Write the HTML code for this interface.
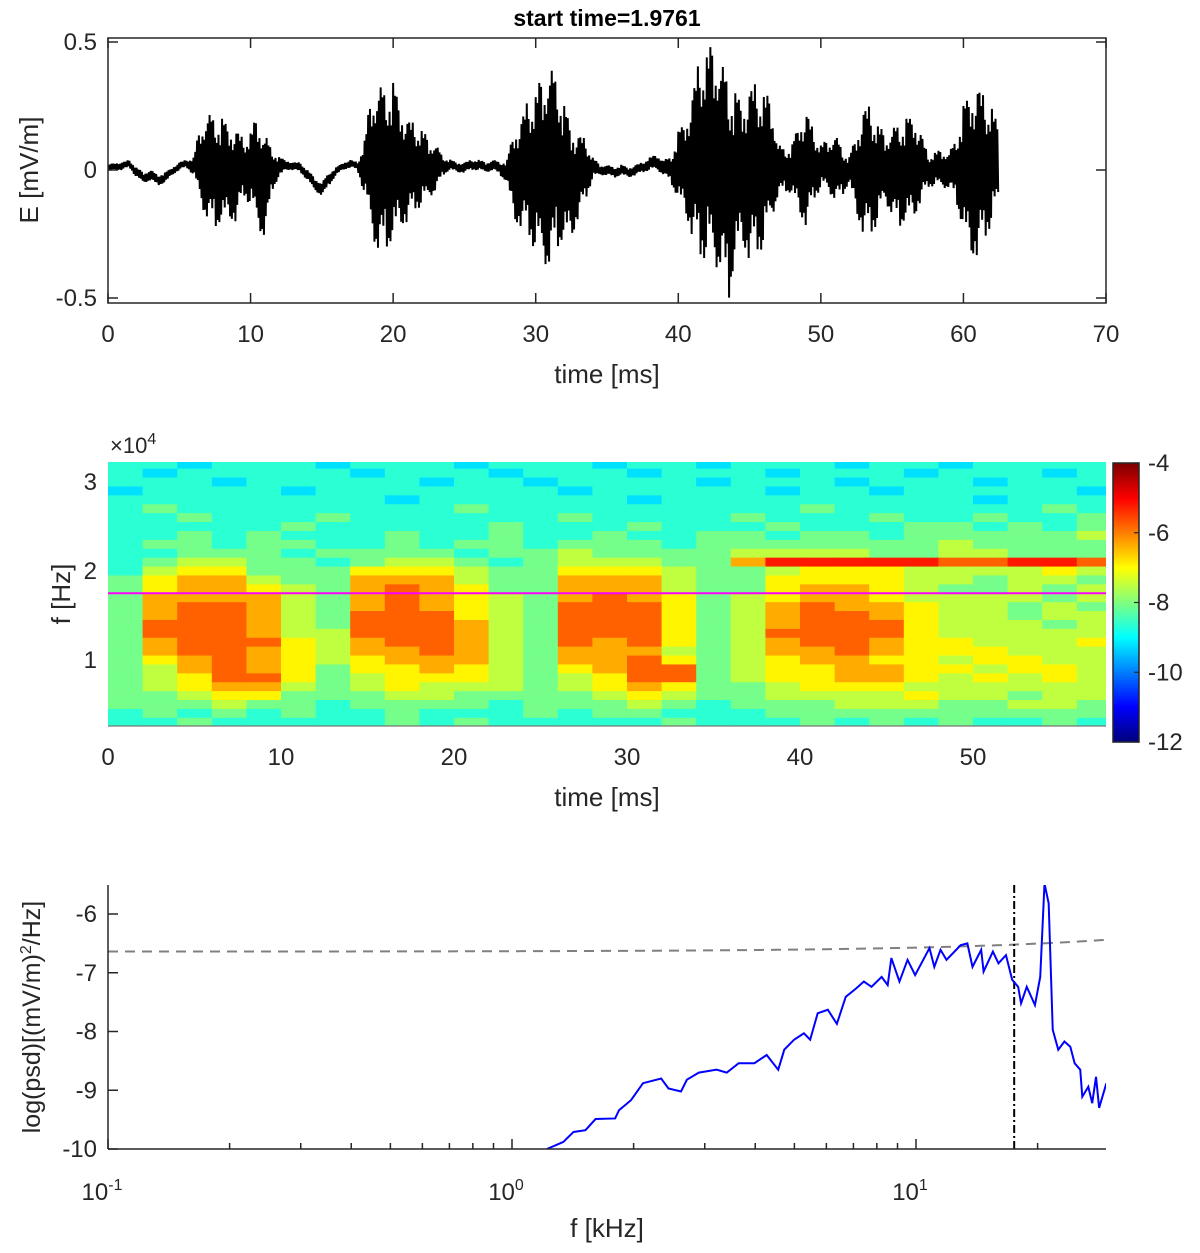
<!DOCTYPE html>
<html><head><meta charset="utf-8"><style>
html,body{margin:0;padding:0;background:#fff;}
svg{display:block;font-family:"Liberation Sans",Arial,sans-serif;}
</style></head><body>
<svg id="fig" width="1200" height="1253" viewBox="0 0 1200 1253" xmlns="http://www.w3.org/2000/svg">
<defs>
<clipPath id="clipTs"><rect x="108" y="38" width="998" height="265"/></clipPath>
<clipPath id="clipSp"><rect x="108" y="462" width="998" height="264"/></clipPath>
<clipPath id="clipPsd"><rect x="108" y="885" width="998" height="264"/></clipPath>
</defs>
<text x="607" y="26" text-anchor="middle" font-size="23" font-weight="bold">start time=1.9761</text>
<g id="p1"></g>
<g id="p2"></g>
<g id="p3"></g>
</svg>
<script>
// ---------- Panel 1 data: E-field envelope per 0.5 ms bin ----------
const tsStep = 0.5;
const eMax = [0.02,0.03,0.03,0.04,0.01,-0.01,0.0,-0.02,-0.01,0.01,0.03,0.04,0.05,0.18,0.22,0.2,0.2,0.18,0.16,0.12,0.15,0.22,0.14,0.08,0.05,0.04,0.03,0.03,0.0,-0.03,-0.05,-0.01,0.01,0.03,0.04,0.03,0.12,0.31,0.33,0.30,0.34,0.26,0.2,0.18,0.16,0.12,0.1,0.05,0.04,0.03,0.03,0.04,0.04,0.03,0.04,0.03,0.04,0.17,0.2,0.28,0.3,0.38,0.4,0.35,0.25,0.18,0.14,0.12,0.05,0.02,0.02,0.01,0.02,0.01,0.02,0.03,0.05,0.06,0.04,0.05,0.15,0.2,0.3,0.44,0.46,0.5,0.42,0.35,0.3,0.28,0.32,0.34,0.3,0.28,0.1,0.08,0.1,0.2,0.23,0.15,0.1,0.12,0.14,0.08,0.05,0.15,0.24,0.25,0.18,0.14,0.16,0.18,0.2,0.22,0.15,0.06,0.07,0.08,0.07,0.12,0.25,0.32,0.33,0.28,0.25,0.15];
const eMin = [-0.01,0.0,0.0,0.01,-0.03,-0.05,-0.04,-0.06,-0.05,-0.02,0.0,0.01,-0.02,-0.13,-0.2,-0.22,-0.21,-0.2,-0.2,-0.1,-0.14,-0.22,-0.27,-0.08,-0.03,0.0,0.0,-0.01,-0.04,-0.08,-0.1,-0.06,-0.02,0.0,0.01,0.0,-0.1,-0.25,-0.33,-0.3,-0.29,-0.23,-0.2,-0.16,-0.14,-0.11,-0.08,-0.02,0.0,-0.01,-0.01,0.0,0.0,-0.01,0.0,-0.02,-0.05,-0.21,-0.22,-0.26,-0.32,-0.36,-0.38,-0.3,-0.28,-0.28,-0.18,-0.12,-0.03,-0.02,-0.02,-0.03,-0.02,-0.03,-0.02,-0.01,0.0,0.0,-0.02,-0.05,-0.12,-0.18,-0.26,-0.35,-0.34,-0.38,-0.38,-0.52,-0.35,-0.3,-0.35,-0.33,-0.3,-0.2,-0.1,-0.08,-0.1,-0.18,-0.22,-0.12,-0.07,-0.08,-0.12,-0.1,-0.05,-0.18,-0.25,-0.26,-0.2,-0.12,-0.18,-0.22,-0.2,-0.2,-0.12,-0.07,-0.06,-0.07,-0.07,-0.12,-0.25,-0.35,-0.33,-0.28,-0.2,-0.12];
const p1XTicks = [0,10,20,30,40,50,60,70];
const p1YTicks = [-0.5,0,0.5];
const p1YTickLabels = ["-0.5","0","0.5"];

// ---------- Panel 2 data: spectrogram log power (digit d -> -10.4 + 0.58 d) ----------
const spT0 = 0, spDt = 2;           // ms per column
const spFTop = 32, spDf = 1;        // kHz row centres from 32 down to 3
const spRows = [
"33233323332333233233323323333",
"32333332333233323332333233323",
"33323333323323333233323332333",
"23333233333332333332332333332",
"33333333233333323333333332333",
"34333333334333333333433333343",
"33433343333334333343334334334",
"33333433333433343334333443434",
"33434333433433433443443444445",
"34434433434434443444444454444",
"33444344443445444455554455444",
"34554434554345554479999988998",
"35664446665446665445666555565",
"46775447775447775446666554554",
"46776547876447775446776544545",
"47777547876547876456776555545",
"47887547876548886457877655454",
"47887548886548886457887655455",
"48887548887548886457888655545",
"48887558887548886458888655555",
"47888657887548786457887665556",
"47887657787547775457787666555",
"46787656777547786456776656655",
"45787646676546788456677665665",
"45688645666545688456677656565",
"45677545655545676445666555555",
"44566444554444565445555655455",
"44454434444344454344455544554",
"34343433433343443334444444444",
"33433333434333334333434343343"];
const cbTicks = [-4,-6,-8,-10,-12];
const spXTicks = [0,10,20,30,40,50];
const spYTicks = [1,2,3];
const magentaF = 17.5; // kHz

// ---------- Panel 3 data: PSD ----------
const psdF = [1.22,1.34,1.42,1.52,1.61,1.80,1.84,1.97,2.11,2.34,2.44,2.62,2.71,2.90,3.21,3.40,3.64,3.98,4.27,4.56,4.72,4.99,5.28,5.47,5.71,6.05,6.37,6.70,7.10,7.43,7.76,8.22,8.51,8.69,9.10,9.53,9.95,10.8,11.1,11.5,11.9,12.9,13.4,13.8,14.5,14.7,15.5,16.0,16.7,17.3,17.9,18.2,18.8,19.7,20.3,20.8,21.3,21.8,22.5,23.3,24.1,24.7,25.5,25.8,26.7,27.3,27.9,28.4,29.6];
const psdV = [-10.0,-9.88,-9.71,-9.68,-9.49,-9.48,-9.34,-9.17,-8.88,-8.80,-8.97,-9.02,-8.82,-8.70,-8.65,-8.70,-8.54,-8.54,-8.40,-8.65,-8.31,-8.14,-8.03,-8.14,-7.69,-7.63,-7.87,-7.41,-7.27,-7.15,-7.24,-7.07,-7.21,-6.75,-7.15,-6.78,-7.04,-6.58,-6.90,-6.61,-6.78,-6.53,-6.50,-6.90,-6.61,-6.98,-6.64,-6.84,-6.70,-7.12,-7.24,-7.52,-7.24,-7.55,-7.07,-5.48,-5.82,-7.97,-8.31,-8.17,-8.26,-8.54,-8.65,-9.11,-8.94,-9.22,-8.77,-9.30,-8.88];
const thrIntercept = -6.64, thrSlope = 0.0068; // threshold line = a + b*f(kHz)
const cutoffF = 17.5; // kHz
const psdYTicks = [-10,-9,-8,-7,-6];

const NS = "http://www.w3.org/2000/svg";
function mk(parent, tag, attrs, text){
  const e = document.createElementNS(NS, tag);
  for (const k in attrs) e.setAttribute(k, attrs[k]);
  if (text !== undefined) e.textContent = text;
  parent.appendChild(e);
  return e;
}
function jet(v){
  const c = x => Math.max(0, Math.min(1, x));
  const r = c(1.5 - Math.abs(4*v - 3)), g = c(1.5 - Math.abs(4*v - 2)), b = c(1.5 - Math.abs(4*v - 1));
  return `rgb(${Math.round(r*255)},${Math.round(g*255)},${Math.round(b*255)})`;
}

// ================= Panel 1 =================
(function(){
  const g = document.getElementById('p1');
  const X0 = 108, X1 = 1106, Y0 = 38, Y1 = 303;
  const xS = t => X0 + (t - 0) / 70 * (X1 - X0);
  const yS = v => 170 - v * 256;
  const pattern = [1, 0.55, 0.9, 0.7, 0.95, 0.5, 0.82, 0.65];
  let pts = [];
  const N = 8;
  for (let i = 0; i < eMax.length - 1; i++) {
    for (let k = 0; k < N; k++) {
      const f = k / N;
      const hi = eMax[i] + (eMax[i+1] - eMax[i]) * f;
      const lo = eMin[i] + (eMin[i+1] - eMin[i]) * f;
      const mid = (hi + lo) / 2, amp = (hi - lo) / 2;
      const s = (k % 2 === 0 ? 1 : -1) * pattern[(i + k) % pattern.length];
      pts.push(xS((i + f) * tsStep).toFixed(2) + ',' + yS(mid + amp * s).toFixed(2));
    }
  }
  const wave = mk(g, 'polyline', {points: pts.join(' '), fill: 'none', stroke: '#000', 'stroke-width': 2, 'clip-path': 'url(#clipTs)'});
  
  
  const frame = mk(g, 'rect', {x: X0, y: Y0, width: X1 - X0, height: Y1 - Y0, fill: 'none', stroke: '#262626', 'stroke-width': 1.5});
  
  
  p1XTicks.forEach(t => {
    const x = xS(t);
    mk(g, 'line', {x1: x, y1: Y1, x2: x, y2: Y1 - 10, stroke: '#262626', 'stroke-width': 1.5});
    mk(g, 'line', {x1: x, y1: Y0, x2: x, y2: Y0 + 10, stroke: '#262626', 'stroke-width': 1.5});
    const lb = mk(g, 'text', {x: x, y: 342, 'text-anchor': 'middle', 'font-size': 24, fill: '#262626'}, String(t));
    
    
  });
  p1YTicks.forEach((v, i) => {
    const y = yS(v);
    mk(g, 'line', {x1: X0, y1: y, x2: X0 + 10, y2: y, stroke: '#262626', 'stroke-width': 1.5});
    mk(g, 'line', {x1: X1, y1: y, x2: X1 - 10, y2: y, stroke: '#262626', 'stroke-width': 1.5});
    const lb = mk(g, 'text', {x: 97, y: y + 8, 'text-anchor': 'end', 'font-size': 24, fill: '#262626'}, p1YTickLabels[i]);
    
    
  });
  const xl = mk(g, 'text', {x: 607, y: 383, 'text-anchor': 'middle', 'font-size': 26, fill: '#262626'}, 'time [ms]');
  
  
  const yl = mk(g, 'text', {x: 0, y: 0, 'text-anchor': 'middle', 'font-size': 26, fill: '#262626', transform: 'translate(38,170) rotate(-90)'}, 'E [mV/m]');
  
  
})();

// ================= Panel 2 =================
(function(){
  const g = document.getElementById('p2');
  const X0 = 108, X1 = 1106, Y0 = 462, Y1 = 726;
  const xS = t => X0 + t * 17.3;
  const yS = f => 660 - (f - 10) * 8.9; // f in kHz
  const cg = mk(g, 'g', {'clip-path': 'url(#clipSp)'});
  spRows.forEach((row, r) => {
    const fc = spFTop - r * spDf;
    for (let c = 0; c < row.length; c++) {
      const val = -10.4 + 0.58 * Number(row[c]);
      const t0 = spT0 + c * spDt;
      const y = yS(fc + spDf / 2);
      const cell = mk(cg, 'rect', {x: xS(t0).toFixed(2), y: y.toFixed(2), width: (xS(t0 + spDt) - xS(t0) + 0.6).toFixed(2), height: (yS(fc - spDf/2) - y + 0.6).toFixed(2), fill: jet((val + 12) / 8)});
      
      
    }
  });
  const mg = mk(g, 'line', {x1: X0, x2: X1, y1: yS(magentaF), y2: yS(magentaF), stroke: '#ff00ff', 'stroke-width': 2});
  
  
  mk(g, 'line', {x1: X0, x2: X1, y1: Y1, y2: Y1, stroke: '#777', 'stroke-width': 1.2});
  spXTicks.forEach(t => {
    const x = xS(t);
    const lb = mk(g, 'text', {x: x, y: 765, 'text-anchor': 'middle', 'font-size': 24, fill: '#262626'}, String(t));
    
    
  });
  spYTicks.forEach(v => {
    const y = yS(v * 10);
    const lb = mk(g, 'text', {x: 97, y: y + 8, 'text-anchor': 'end', 'font-size': 24, fill: '#262626'}, String(v));
    
    
  });
  const ex = mk(g, 'text', {x: 110, y: 453, 'font-size': 22, fill: '#262626'});
  
  
  ex.innerHTML = '×10<tspan dy="-9" font-size="16">4</tspan>';
  const xl = mk(g, 'text', {x: 607, y: 806, 'text-anchor': 'middle', 'font-size': 26, fill: '#262626'}, 'time [ms]');
  
  
  const yl = mk(g, 'text', {x: 0, y: 0, 'text-anchor': 'middle', 'font-size': 26, fill: '#262626', transform: 'translate(70,594) rotate(-90)'}, 'f [Hz]');
  
  
  // colorbar
  const CX = 1113, CW = 26, CY0 = 463, CY1 = 742;
  const cbS = v => CY0 + (-4 - v) / 8 * (CY1 - CY0);
  const cb = mk(g, 'g', {});
  
  
  for (let i = 0; i < 140; i++) {
    const y = CY0 + i * (CY1 - CY0) / 140;
    mk(cb, 'rect', {x: CX, y: y.toFixed(2), width: CW, height: ((CY1 - CY0) / 140 + 0.6).toFixed(2), fill: jet(1 - i / 139)});
  }
  mk(cb, 'rect', {x: CX, y: CY0, width: CW, height: CY1 - CY0, fill: 'none', stroke: '#262626', 'stroke-width': 1.5});
  cbTicks.forEach(v => {
    const y = cbS(v);
    mk(cb, 'line', {x1: CX + CW - 5, x2: CX + CW, y1: y, y2: y, stroke: '#262626', 'stroke-width': 1.2});
    const lb = mk(cb, 'text', {x: 1148, y: y + 8, 'font-size': 24, fill: '#262626'}, String(v));
    
    
  });
})();

// ================= Panel 3 =================
(function(){
  const g = document.getElementById('p3');
  const X0 = 108, X1 = 1106, Y0 = 885, Y1 = 1149;
  const xS = f => 512 + Math.log10(f) * 404; // f in kHz
  const yS = v => 1149 - (v + 10) * 58.75;
  let th = [];
  for (let i = 0; i <= 200; i++) {
    const lf = -1 + i * (Math.log10(29.5) + 1) / 200;
    const f = Math.pow(10, lf);
    th.push(xS(f).toFixed(2) + ',' + yS(thrIntercept + thrSlope * f).toFixed(2));
  }
  const thl = mk(g, 'polyline', {points: th.join(' '), fill: 'none', stroke: '#808080', 'stroke-width': 2, 'stroke-dasharray': '10,7'});
  
  
  const cut = mk(g, 'line', {x1: xS(cutoffF), x2: xS(cutoffF), y1: Y0, y2: Y1, stroke: '#000', 'stroke-width': 2, 'stroke-dasharray': '8,3,2,3'});
  
  
  const pts = psdF.map((f, i) => xS(f).toFixed(2) + ',' + yS(psdV[i]).toFixed(2)).join(' ');
  const pl = mk(g, 'polyline', {points: pts, fill: 'none', stroke: '#0000ff', 'stroke-width': 2, 'clip-path': 'url(#clipPsd)'});
  
  
  mk(g, 'line', {x1: X0, x2: X0, y1: Y0, y2: Y1, stroke: '#262626', 'stroke-width': 1.5});
  mk(g, 'line', {x1: X0, x2: X1, y1: Y1, y2: Y1, stroke: '#262626', 'stroke-width': 1.5});
  psdYTicks.forEach(v => {
    const y = yS(v);
    mk(g, 'line', {x1: X0, x2: X0 + 10, y1: y, y2: y, stroke: '#262626', 'stroke-width': 1.5});
    const lb = mk(g, 'text', {x: 97, y: y + 8, 'text-anchor': 'end', 'font-size': 24, fill: '#262626'}, String(v));
    
    
  });
  [0.1, 1, 10].forEach(dec => {
    for (let m = 1; m <= 9; m++) {
      const f = dec * m;
      if (f > 29.5) break;
      const x = xS(f);
      mk(g, 'line', {x1: x, x2: x, y1: Y1, y2: Y1 - (m === 1 ? 10 : 6), stroke: '#262626', 'stroke-width': 1.5});
    }
  });
  [[0.1, '-1'], [1, '0'], [10, '1']].forEach(([f, e]) => {
    const lb = mk(g, 'text', {x: xS(f) - 6, y: 1200, 'text-anchor': 'middle', 'font-size': 24, fill: '#262626'});
    
    
    lb.innerHTML = '10<tspan dy="-10" font-size="16">' + e + '</tspan>';
  });
  const xl = mk(g, 'text', {x: 607, y: 1237, 'text-anchor': 'middle', 'font-size': 26, fill: '#262626'}, 'f [kHz]');
  
  
  const yl = mk(g, 'text', {x: 0, y: 0, 'text-anchor': 'middle', 'font-size': 25, fill: '#262626', transform: 'translate(40,1017) rotate(-90)'});
  
  
  yl.innerHTML = 'log(psd)[(mV/m)<tspan dy="-9" font-size="16">2</tspan><tspan dy="9">/Hz]</tspan>';
})();
</script>
</body></html>
